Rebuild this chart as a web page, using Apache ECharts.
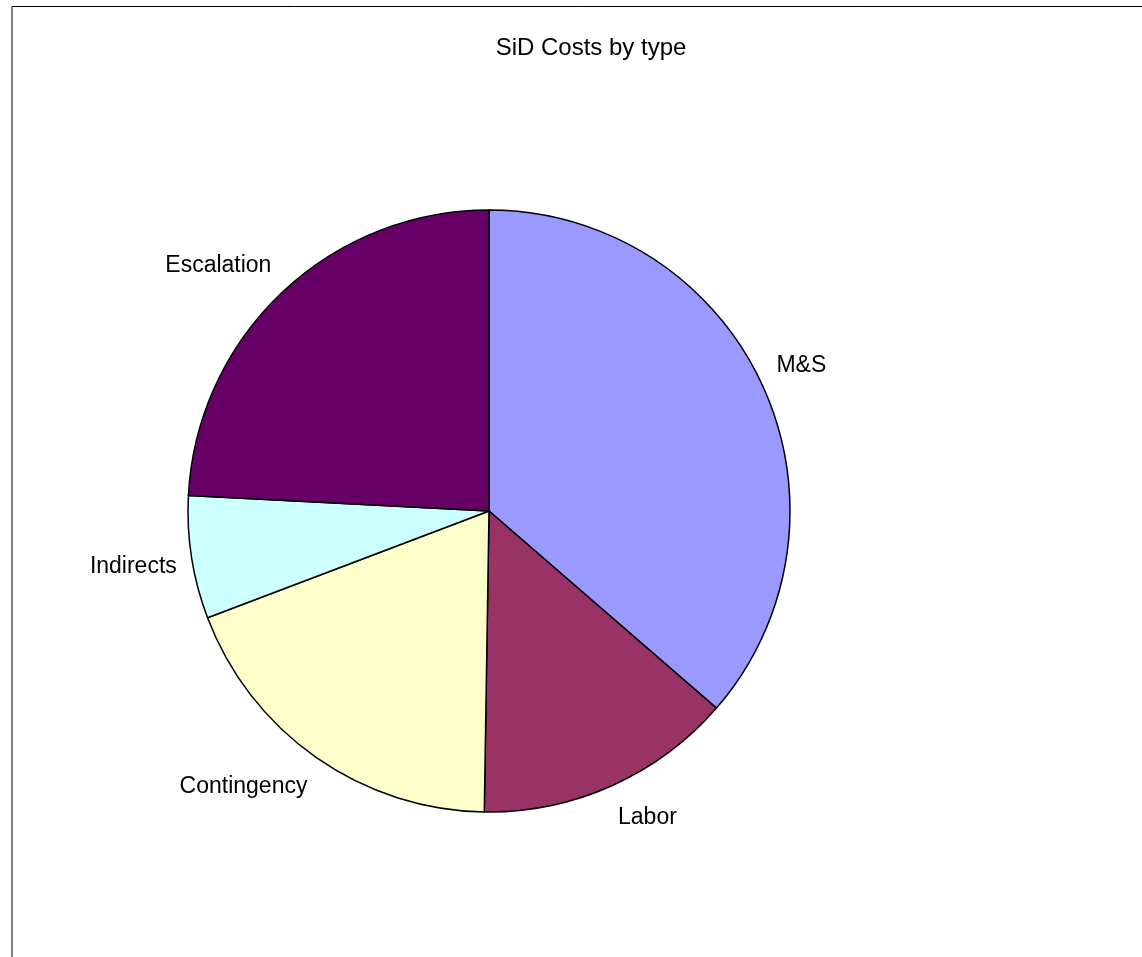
<!DOCTYPE html>
<html><head><meta charset="utf-8">
<script src="https://cdn.jsdelivr.net/npm/echarts@6/dist/echarts.min.js"></script>
<style>html,body{margin:0;padding:0;background:#fff}#c{width:1142px;height:957px}</style>
</head><body><div id="c"></div>
<script>
const categories = ['M&S', 'Labor', 'Contingency', 'Indirects', 'Escalation'];
const values = [36.4, 13.9, 19.0, 6.6, 24.2];
const colors = ['#9999FF', '#993366', '#FFFFCC', '#CCFFFF', '#660066'];
const titleText = 'SiD Costs by type';

const CX = 489, CY = 511, R = 301, GAP_X = 15, GAP_Y = 22;
const FONT = '"Liberation Sans", Arial, sans-serif';
const total = values.reduce((a, b) => a + b, 0);
function midAngle(i) {
  let s = 0;
  for (let k = 0; k < i; k++) s += values[k];
  return (s + values[i] / 2) / total * 2 * Math.PI;
}
const clamp = t => Math.max(-1, Math.min(1, t));

const chart = echarts.init(document.getElementById('c'), null, {renderer: 'canvas'});
chart.setOption({
  animation: false,
  backgroundColor: '#fff',
  title: {
    text: titleText, left: 586, textAlign: 'center', top: 31,
    textStyle: {fontFamily: FONT, fontSize: 24, fontWeight: 'normal', color: '#000'}
  },
  graphic: [{
    type: 'rect', silent: true, z: 100,
    shape: {x: 12, y: 6.5, width: 1200, height: 1000},
    style: {fill: 'transparent', stroke: '#000', lineWidth: 1}
  }],
  series: [{
    type: 'pie',
    center: [CX, CY],
    radius: R,
    startAngle: 90,
    clockwise: true,
    avoidLabelOverlap: false,
    data: categories.map((n, i) => ({name: n, value: values[i], itemStyle: {color: colors[i]}})),
    itemStyle: {borderColor: '#000', borderWidth: 1.5},
    emphasis: {disabled: true},
    label: {show: true, position: 'outside', formatter: '{b}', color: '#000', fontFamily: FONT, fontSize: 23},
    labelLine: {show: false},
    labelLayout: function (p) {
      const a = midAngle(p.dataIndex);
      const ux = Math.sin(a), uy = -Math.cos(a);
      const w = p.labelRect.width, h = p.labelRect.height;
      const px = CX + ux * (R + GAP_X), py = CY + uy * (R + GAP_Y);
      return {
        x: px + w / 2 * clamp(ux * 3),
        y: py + h / 2 * clamp(uy * 3),
        align: 'center', verticalAlign: 'middle'
      };
    }
  }]
});
</script>
</body></html>
